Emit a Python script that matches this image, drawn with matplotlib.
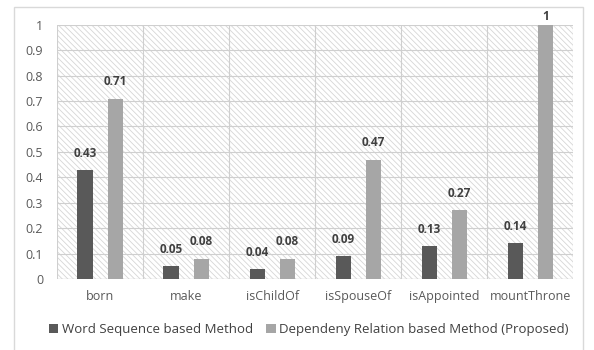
import matplotlib.pyplot as plt
import numpy as np
from matplotlib.patches import Rectangle

plt.rcParams['font.family'] = ['Open Sans', 'DejaVu Sans']
plt.rcParams['hatch.linewidth'] = 0.6
plt.rcParams['hatch.color'] = '#d6d6d6'

relasi = ['born', 'make', 'isChildOf', 'isSpouseOf', 'isAppointed', 'mountThrone']
word_seq = [0.43, 0.05, 0.04, 0.09, 0.13, 0.14]
dep_rel = [0.71, 0.08, 0.08, 0.47, 0.27, 1.0]
label_ws = 'Word Sequence based Method'
label_dr = 'Dependeny Relation based Method (Proposed)'

fig = plt.figure(figsize=(5.94, 3.5), dpi=100)
ax = fig.add_axes([0.096, 0.203, 0.869, 0.726])

# bingkai luar
fig.patches.append(Rectangle((0.024, -0.01), 0.958, 0.99, transform=fig.transFigure,
                             fill=False, edgecolor='#d9d9d9', linewidth=1))

x = np.arange(len(relasi))
w = 0.175
ax.set_xlim(-0.5, len(relasi) - 0.5)
ax.set_ylim(0, 1)

# latar arsir
ax.add_patch(Rectangle((-0.5, 0), len(relasi), 1, facecolor='white', hatch='\\' * 6,
                       edgecolor='#d6d6d6', linewidth=0, zorder=0))

for y in np.arange(0.1, 1.01, 0.1):
    ax.axhline(y, color='#cfcfcf', linewidth=0.8, zorder=1)
for xv in np.arange(-0.5, len(relasi), 1):
    ax.axvline(xv, color='#cfcfcf', linewidth=0.8, zorder=1)

b1 = ax.bar(x - w, word_seq, w, color='#595959', label=label_ws, zorder=3)
b2 = ax.bar(x + w, dep_rel, w, color='#a6a6a6', label=label_dr, zorder=3)

for bars, vals in [(b1, word_seq), (b2, dep_rel)]:
    for b, v in zip(bars, vals):
        teks = '1' if v == 1 else f'{v:.2f}'
        ax.text(b.get_x() + b.get_width() / 2, min(v + 0.04, 1.008), teks, ha='center',
                va='bottom', fontsize=8.5, fontweight='bold', color='#404040', zorder=4)

ax.set_xticks(x)
ax.set_xticklabels(relasi, fontsize=9, color='#595959')
ax.set_yticks(np.arange(0, 1.01, 0.1))
ax.set_yticklabels(['0', '0.1', '0.2', '0.3', '0.4', '0.5', '0.6', '0.7', '0.8', '0.9', '1'],
                   fontsize=9, color='#595959')
ax.tick_params(length=0, pad=8)
ax.tick_params(axis='y', pad=10)
for s in ax.spines.values():
    s.set_visible(False)
ax.axhline(0, color='#cfcfcf', linewidth=1, zorder=2)

fig.legend(handles=[b1, b2], loc='center', bbox_to_anchor=(0.52, 0.058), ncol=2, frameon=False,
           fontsize=9.5, handlelength=0.7, handleheight=0.7, handletextpad=0.3,
           columnspacing=1.0, labelcolor='#404040')

plt.savefig('out.png', dpi=100)
